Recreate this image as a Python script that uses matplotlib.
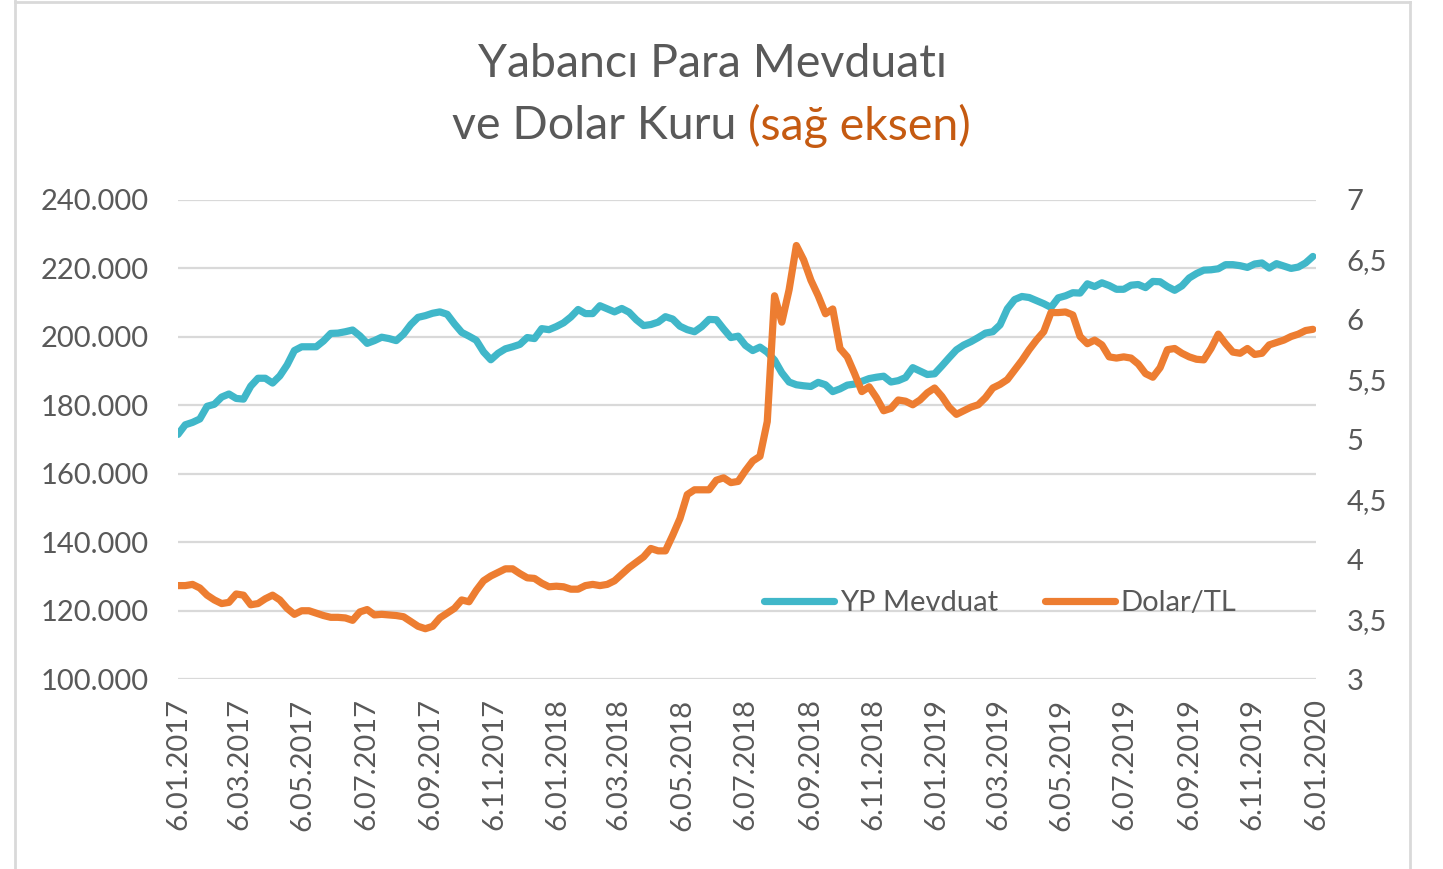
import pandas as pd
import matplotlib.pyplot as plt
import matplotlib.dates as mdates
from matplotlib.ticker import FuncFormatter, MultipleLocator
from matplotlib.lines import Line2D

plt.rcParams['font.family'] = ['Lato', 'DejaVu Sans']

# weekly data, first week 6.01.2017
dates = pd.date_range('2017-01-06', periods=157, freq='7D')

# YP Mevduat (thousands)
yp_mevduat = [171.5, 174.3, 175.0, 176.0, 179.7, 180.3, 182.4, 183.3, 182.0, 181.8,
              185.6, 187.9, 187.9, 186.5, 188.6, 191.8, 196.0, 197.1, 197.1, 197.1,
              198.8, 201.0, 201.1, 201.5, 202.0, 200.3, 198.1, 198.9, 199.9, 199.5,
              198.9, 200.8, 203.6, 205.7, 206.2, 206.9, 207.3, 206.6, 203.8, 201.3,
              200.2, 199.0, 195.6, 193.3, 195.2, 196.5, 197.1, 197.8, 199.8, 199.5,
              202.4, 202.1, 203.0, 204.1, 205.8, 208.0, 206.8, 206.8, 209.1, 208.2,
              207.3, 208.3, 207.2, 205.0, 203.3, 203.6, 204.3, 205.9, 205.2, 203.1,
              202.1, 201.5, 203.0, 205.1, 205.0, 202.3, 199.8, 200.2, 197.5, 196.0,
              197.0, 195.5, 193.2, 189.5, 186.8, 186.0, 185.7, 185.5, 186.7, 186.0,
              184.0, 184.8, 185.9, 186.2, 187.0, 187.8, 188.2, 188.5, 186.8, 187.2,
              188.1, 191.0, 190.0, 189.0, 189.2, 191.5, 193.9, 196.2, 197.6, 198.6,
              199.8, 201.1, 201.5, 203.5, 208.2, 210.9, 211.8, 211.5, 210.6, 209.7,
              208.6, 211.4, 212.0, 212.9, 212.8, 215.5, 214.7, 215.8, 215.0, 213.9,
              213.9, 215.1, 215.3, 214.4, 216.2, 216.1, 214.7, 213.6, 214.9, 217.2,
              218.5, 219.5, 219.6, 219.9, 221.1, 221.1, 220.8, 220.3, 221.3, 221.6,
              220.1, 221.4, 220.7, 220.0, 220.4, 221.6, 223.5]
yp_mevduat = [v * 1000 for v in yp_mevduat]

# Dolar/TL
dolar_tl = [3.78, 3.78, 3.79, 3.76, 3.70, 3.66, 3.63, 3.64, 3.71, 3.70,
            3.62, 3.63, 3.67, 3.70, 3.66, 3.59, 3.54, 3.57, 3.57, 3.55,
            3.53, 3.515, 3.515, 3.51, 3.49, 3.56, 3.58, 3.535, 3.54, 3.535,
            3.53, 3.52, 3.48, 3.44, 3.42, 3.44, 3.51, 3.55, 3.59, 3.66,
            3.645, 3.74, 3.82, 3.86, 3.89, 3.92, 3.92, 3.88, 3.845, 3.84,
            3.80, 3.77, 3.775, 3.77, 3.75, 3.75, 3.78, 3.79, 3.78, 3.79,
            3.82, 3.875, 3.93, 3.975, 4.02, 4.09, 4.07, 4.07, 4.20, 4.34,
            4.54, 4.58, 4.58, 4.58, 4.66, 4.68, 4.64, 4.65, 4.74, 4.82,
            4.86, 5.15, 6.20, 5.98, 6.25, 6.62, 6.50, 6.33, 6.20, 6.05,
            6.09, 5.76, 5.69, 5.55, 5.40, 5.44, 5.35, 5.24, 5.26, 5.33,
            5.32, 5.29, 5.33, 5.39, 5.43, 5.36, 5.27, 5.21, 5.24, 5.27,
            5.29, 5.35, 5.43, 5.46, 5.50, 5.58, 5.66, 5.75, 5.83, 5.90,
            6.06, 6.06, 6.065, 6.04, 5.86, 5.80, 5.83, 5.79, 5.69, 5.68,
            5.69, 5.68, 5.63, 5.55, 5.52, 5.60, 5.75, 5.76, 5.72, 5.69,
            5.67, 5.665, 5.76, 5.88, 5.80, 5.73, 5.72, 5.76, 5.71, 5.72,
            5.79, 5.81, 5.83, 5.86, 5.88, 5.91, 5.92]

BLUE = '#40B7C9'
ORANGE = '#ED7D31'
GRAY = '#595959'
GRID = '#D9D9D9'
FS = 21

fig = plt.figure(figsize=(14.43, 8.69), dpi=100)
ax = fig.add_axes([178 / 1443, 1 - 679 / 869, (1316 - 178) / 1443, (679 - 200) / 869])
ax2 = ax.twinx()

ax.plot(dates, yp_mevduat, color=BLUE, lw=5.2, solid_capstyle='round', solid_joinstyle='round')
ax2.plot(dates, dolar_tl, color=ORANGE, lw=5.2, solid_capstyle='round', solid_joinstyle='round')

ax.set_xlim(pd.Timestamp('2017-01-06'), pd.Timestamp('2020-01-06'))
ax.set_ylim(100000, 240000)
ax2.set_ylim(3, 7)
ax.yaxis.set_major_locator(MultipleLocator(20000))
ax2.yaxis.set_major_locator(MultipleLocator(0.5))
ax.yaxis.set_major_formatter(FuncFormatter(lambda v, p: f"{int(v):,}".replace(',', '.')))
ax2.yaxis.set_major_formatter(FuncFormatter(lambda v, p: f"{v:g}".replace('.', ',')))

ax.xaxis.set_major_locator(mdates.MonthLocator(bymonth=[1, 3, 5, 7, 9, 11], bymonthday=6))
ax.xaxis.set_major_formatter(FuncFormatter(
    lambda v, p: "{}.{:02d}.{}".format(mdates.num2date(v).day, mdates.num2date(v).month, mdates.num2date(v).year)))

ax.grid(axis='y', color=GRID, lw=1.6)
ax.set_axisbelow(True)
for a in (ax, ax2):
    for s in a.spines.values():
        s.set_visible(False)
    a.tick_params(length=0, colors=GRAY, labelsize=FS)
ax.tick_params(axis='y', pad=21)
ax2.tick_params(axis='y', pad=22)
ax.tick_params(axis='x', pad=14)
for lab in ax.get_xticklabels():
    lab.set_rotation(90)

handles = [Line2D([], [], color=BLUE, lw=5.2, solid_capstyle='round'),
           Line2D([], [], color=ORANGE, lw=5.2, solid_capstyle='round')]
leg = ax2.legend(handles, ['YP Mevduat', 'Dolar/TL'], ncol=2, frameon=False,
                 fontsize=FS, handlelength=2.4, handletextpad=0.2, columnspacing=1.6,
                 loc='center', bbox_to_anchor=((1000 - 178) / 1138, (679 - 603) / 479))
for t in leg.get_texts():
    t.set_color(GRAY)

# title
TS = 33.5
fig.text(713 / 1443, 1 - 64 / 869, 'Yabancı Para Mevduatı', ha='center', va='center',
         fontsize=TS, color=GRAY)
t1 = fig.text(0, 1 - 126 / 869, 've Dolar Kuru ', ha='left', va='center', fontsize=TS, color=GRAY)
t2 = fig.text(0, 1 - 126 / 869, '(sağ eksen)', ha='left', va='center', fontsize=TS, color='#C55A11')
fig.canvas.draw()
r = fig.canvas.get_renderer()
w1 = t1.get_window_extent(r).width / 1443
w2 = t2.get_window_extent(r).width / 1443
x0 = 711 / 1443 - (w1 + w2) / 2
t1.set_x(x0)
t2.set_x(x0 + w1)

# chart border
for xs, ys in [([15, 15], [0, 869]), ([15, 1410], [2, 2]), ([1410, 1410], [2, 869])]:
    fig.add_artist(Line2D([x / 1443 for x in xs], [1 - y / 869 for y in ys], color=GRID, lw=2))

fig.savefig('out.png', dpi=100, facecolor='white')
